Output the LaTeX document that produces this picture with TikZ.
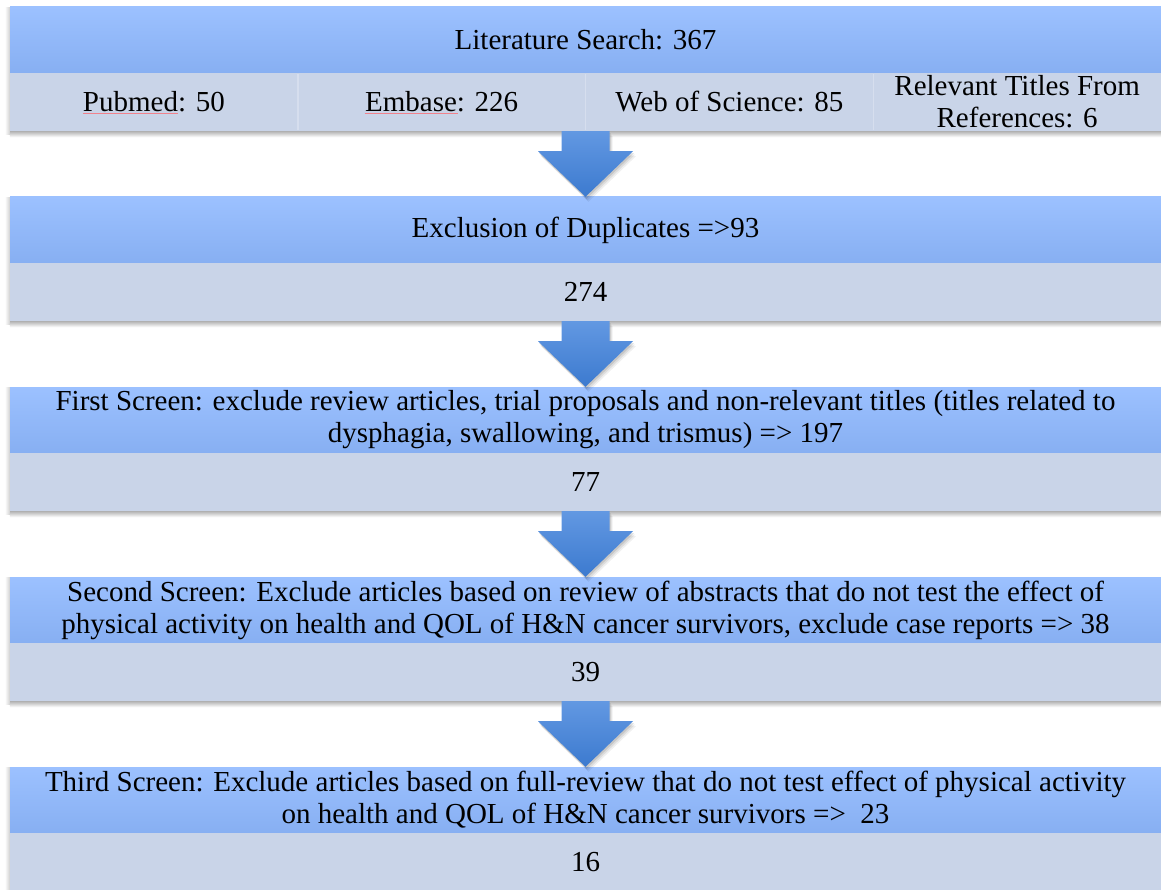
\documentclass[tikz,border=0pt]{standalone}
\usepackage{fontspec}
\setmainfont{Liberation Serif}
\usetikzlibrary{calc}
\pgfdeclarelayer{background}
\pgfsetlayers{background,main}
\definecolor{hdtop}{RGB}{156,193,255}
\definecolor{hdbot}{RGB}{135,175,242}
\definecolor{subfill}{RGB}{201,212,232}
\definecolor{subline}{RGB}{214,222,238}
\definecolor{artop}{RGB}{98,152,226}
\definecolor{arbot}{RGB}{60,122,207}
\definecolor{spell}{RGB}{240,130,140}
\tikzset{
  txt/.style={font=\fontsize{29}{32}\selectfont, text=black, align=center},
  hdr/.style={txt, rectangle, inner sep=0pt, minimum width=1151pt, minimum height=66pt,
    top color=hdtop, bottom color=hdbot, draw=none},
  subrow/.style={txt, rectangle, inner sep=0pt, minimum width=1151pt, minimum height=58pt,
    fill=subfill, draw=none},
  subcell/.style={txt, rectangle, inner sep=0pt, minimum width=287.75pt, minimum height=58pt,
    fill=subfill, draw=none},
  blockshadow/.style={top color=black!35, bottom color=white, draw=none},
  sideshadow/.style={left color=white, right color=black!18, draw=none},
  bigarrow/.style={top color=artop, bottom color=arbot, draw=none},
  arrowshadow/.style={fill=black, draw=none, opacity=#1},
  divider/.style={draw=subline, line width=1.2pt},
  squiggle/.style={draw=spell, line width=0.5pt}
}
\newcommand\flowarrow[2]{%
  \foreach \op/\dx/\dy in {0.06/3/-5, 0.08/2/-3.5, 0.10/1/-2}{%
    \path[arrowshadow=\op, transform canvas={xshift=\dx pt, yshift=\dy pt}]
      ([xshift=-24pt]#1.south) -- ([xshift=24pt]#1.south) -- ([xshift=24pt,yshift=-20pt]#1.south)
      -- ([xshift=47.5pt,yshift=-20pt]#1.south) -- (#2.north) -- ([xshift=-47.5pt,yshift=-20pt]#1.south)
      -- ([xshift=-24pt,yshift=-20pt]#1.south) -- cycle;}
  \path[bigarrow]
    ([xshift=-24pt]#1.south) -- ([xshift=24pt]#1.south) -- ([xshift=24pt,yshift=-20pt]#1.south)
    -- ([xshift=47.5pt,yshift=-20pt]#1.south) -- (#2.north) -- ([xshift=-47.5pt,yshift=-20pt]#1.south)
    -- ([xshift=-24pt,yshift=-20pt]#1.south) -- cycle;}
\newcommand\blockshade[2]{%
  \path[blockshadow] ([yshift=1pt]#2.south west) rectangle ([yshift=-6pt]#2.south east);
  \path[sideshadow] ([xshift=-5pt,yshift=-1pt]#1.north west) rectangle ([yshift=-3pt]#2.south west);}
\begin{document}
\begin{tikzpicture}[x=1pt,y=-1pt]
\useasboundingbox (0,0) rectangle (1161,890);
% Block 1
\node[hdr] (h1) at (585.5,40) {Literature Search: 367};
\node[subcell] (c1) at (153.875,102) {Pubmed: 50};
\node[subcell] (c2) at (441.625,102) {Embase: 226};
\node[subcell] (c3) at (729.375,102) {Web of Science: 85};
\node[subcell] (c4) at (1017.125,102) {Relevant Titles From\\References: 6};
\node[subrow, fill=none, text opacity=0] (s1) at (585.5,102) {};
\draw[divider] ([yshift=-1pt]c1.north east) -- ([yshift=1pt]c1.south east);
\draw[divider] ([yshift=-1pt]c2.north east) -- ([yshift=1pt]c2.south east);
\draw[divider] ([yshift=-1pt]c3.north east) -- ([yshift=1pt]c3.south east);
\draw[squiggle] ($(c1.center)+(-71,11.5)$) -- ($(c1.center)+(24,11.5)$);
\draw[squiggle] ($(c2.center)+(-77,11.5)$) -- ($(c2.center)+(16,11.5)$);
% Block 2
\node[hdr] (h2) at (585.5,230) {Exclusion of Duplicates =>93};
\node[subrow] (s2) at (585.5,292) {274};
% Block 3
\node[hdr] (h3) at (585.5,420) {First Screen: exclude review articles, trial proposals and non-relevant titles (titles related to\\dysphagia, swallowing, and trismus) => 197};
\node[subrow] (s3) at (585.5,482) {77};
% Block 4
\node[hdr] (h4) at (585.5,610) {Second Screen: Exclude articles based on review of abstracts that do not test the effect of\\physical activity on health and QOL of H\&N cancer survivors, exclude case reports => 38};
\node[subrow] (s4) at (585.5,672) {39};
% Block 5
\node[hdr] (h5) at (585.5,800) {Third Screen: Exclude articles based on full-review that do not test effect of physical activity\\on health and QOL of H\&N cancer survivors =>\ \ 23};
\node[subrow] (s5) at (585.5,862) {16};
% shadows behind blocks
\begin{pgfonlayer}{background}
\blockshade{h1}{s1}
\blockshade{h2}{s2}
\blockshade{h3}{s3}
\blockshade{h4}{s4}
\blockshade{h5}{s5}
\end{pgfonlayer}
% arrows
\flowarrow{s1}{h2}
\flowarrow{s2}{h3}
\flowarrow{s3}{h4}
\flowarrow{s4}{h5}
\end{tikzpicture}
\end{document}
